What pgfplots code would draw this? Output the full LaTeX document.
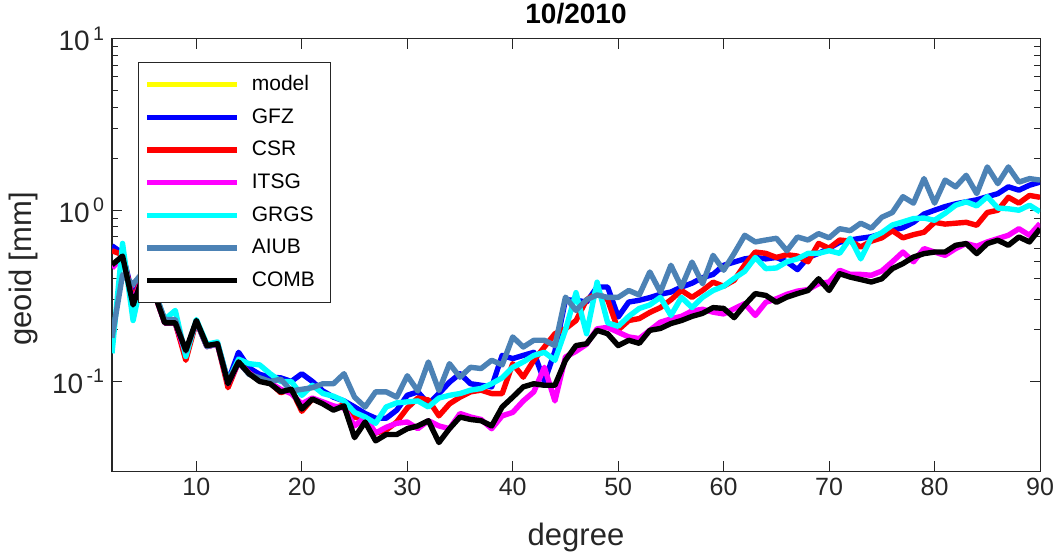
\documentclass[border=0pt]{standalone}
\usepackage{fontspec}
\setmainfont{Liberation Sans}
\usepackage{pgfplots}
\usepackage{pgfplotstable}
\pgfplotsset{compat=1.18}
\definecolor{axgray}{rgb}{0.15,0.15,0.15}
\definecolor{aiubc}{rgb}{0.30,0.51,0.71}
\definecolor{pmag}{rgb}{1,0,1}
\definecolor{pcyan}{rgb}{0,1,1}
\definecolor{pyel}{rgb}{1,1,0}
\definecolor{pblue}{rgb}{0,0,1}
\definecolor{pred}{rgb}{1,0,0}

\pgfplotstableread{
d   gfz   csr   itsg  grgs  aiub  comb
2   0.62  0.58  0.46  0.146 0.18  0.48
3   0.56  0.55  0.53  0.64  0.42  0.54
4   0.31  0.30  0.29  0.227 0.37  0.28
5   0.44  0.43  0.42  0.44  0.44  0.42
6   0.34  0.33  0.33  0.34  0.34  0.33
7   0.22  0.22  0.22  0.23  0.23  0.22
8   0.22  0.22  0.22  0.26  0.23  0.22
9   0.14  0.133 0.145 0.14  0.15  0.152
10  0.225 0.225 0.225 0.23  0.225 0.227
11  0.16  0.16  0.16  0.165 0.16  0.162
12  0.166 0.166 0.165 0.17  0.166 0.166
13  0.10  0.092 0.097 0.10  0.10  0.097
14  0.148 0.13  0.128 0.135 0.13  0.13
15  0.12  0.112 0.112 0.127 0.11  0.111
16  0.11  0.102 0.102 0.125 0.105 0.100
17  0.106 0.098 0.098 0.111 0.10  0.097
18  0.105 0.086 0.09  0.10  0.103 0.087
19  0.10  0.09  0.085 0.10  0.088 0.09
20  0.111 0.067 0.074 0.083 0.09  0.069
21  0.10  0.079 0.08  0.095 0.092 0.079
22  0.088 0.075 0.076 0.085 0.097 0.074
23  0.081 0.07  0.072 0.082 0.097 0.068
24  0.077 0.073 0.07  0.077 0.111 0.072
25  0.071 0.062 0.055 0.066 0.081 0.047
26  0.065 0.06  0.062 0.062 0.071 0.058
27  0.061 0.05  0.05  0.057 0.087 0.045
28  0.061 0.052 0.054 0.071 0.087 0.049
29  0.068 0.058 0.057 0.075 0.081 0.049
30  0.083 0.07  0.058 0.076 0.108 0.053
31  0.087 0.08  0.053 0.077 0.088 0.055
32  0.074 0.078 0.059 0.071 0.13  0.059
33  0.085 0.063 0.055 0.08  0.0885 0.044
34  0.099 0.074 0.053 0.083 0.127 0.053
35  0.111 0.081 0.065 0.085 0.106 0.062
36  0.097 0.087 0.062 0.089 0.121 0.060
37  0.095 0.089 0.06  0.091 0.119 0.059
38  0.093 0.085 0.053 0.097 0.133 0.055
39  0.142 0.085 0.063 0.105 0.125 0.071
40  0.136 0.127 0.066 0.121 0.182 0.081
41  0.142 0.106 0.077 0.13  0.159 0.093
42  0.148 0.133 0.087 0.142 0.174 0.097
43  0.10  0.159 0.121 0.148 0.174 0.095
44  0.15  0.19  0.077 0.133 0.162 0.095
45  0.30  0.203 0.139 0.20  0.311 0.133
46  0.298 0.227 0.150 0.33  0.26  0.162
47  0.291 0.30  0.165 0.19  0.30  0.166
48  0.356 0.33  0.203 0.38  0.32  0.199
49  0.356 0.30  0.207 0.22  0.31  0.19
50  0.238 0.20  0.194 0.21  0.31  0.162
51  0.291 0.227 0.182 0.24  0.34  0.174
52  0.298 0.233 0.178 0.267 0.32  0.167
53  0.309 0.253 0.199 0.28  0.436 0.199
54  0.323 0.27  0.222 0.31  0.333 0.204
55  0.333 0.30  0.232 0.243 0.477 0.218
56  0.356 0.34  0.24  0.31  0.356 0.227
57  0.375 0.31  0.258 0.27  0.498 0.24
58  0.404 0.34  0.264 0.31  0.372 0.25
59  0.422 0.38  0.254 0.34  0.545 0.27
60  0.477 0.36  0.248 0.36  0.446 0.267
61  0.498 0.39  0.266 0.40  0.56  0.236
62  0.52  0.48  0.285 0.44  0.714 0.28
63  0.53  0.57  0.243 0.53  0.653 0.326
64  0.52  0.56  0.29  0.456 0.67  0.318
65  0.53  0.53  0.304 0.46  0.686 0.29
66  0.50  0.55  0.323 0.50  0.58  0.311
67  0.45  0.54  0.337 0.52  0.698 0.326
68  0.53  0.50  0.344 0.56  0.67  0.34
69  0.56  0.64  0.372 0.56  0.73  0.398
70  0.60  0.60  0.381 0.58  0.69  0.34
71  0.65  0.67  0.446 0.56  0.78  0.426
72  0.67  0.66  0.422 0.686 0.76  0.407
73  0.686 0.61  0.422 0.52  0.84  0.394
74  0.70  0.66  0.417 0.69  0.785 0.381
75  0.73  0.69  0.442 0.74  0.91  0.398
76  0.764 0.76  0.50  0.82  0.97  0.456
77  0.79  0.69  0.57  0.855 1.2   0.488
78  0.85  0.72  0.50  0.894 1.1   0.533
79  0.95  0.744 0.597 0.90  1.53  0.558
80  1.0   0.85  0.57  0.874 1.1   0.57
81  1.05  0.83  0.545 0.96  1.5   0.57
82  1.09  0.84  0.597 1.07  1.37  0.624
83  1.12  0.85  0.639 1.12  1.6   0.639
84  1.15  0.817 0.616 1.06  1.25  0.558
85  1.20  0.97  0.653 1.2   1.79  0.639
86  1.25  1.0   0.683 1.03  1.43  0.668
87  1.37  1.19  0.714 1.02  1.79  0.624
88  1.31  1.1   0.78  1.0   1.46  0.698
89  1.40  1.22  0.714 1.07  1.53  0.653
90  1.46  1.19  0.836 0.98  1.5   0.78
}\data

\begin{document}
\begin{tikzpicture}
\begin{axis}[name=ax, scale only axis, width=464pt, height=216pt,
  xmin=2, xmax=90, ymode=log, ymin=0.03, ymax=10,
  xtick={10,20,...,90}, ytick={0.1,1,10},
  yticklabels={10\textsuperscript{\,-1},10\textsuperscript{\,0},10\textsuperscript{\,1}},
  /pgf/number format/assume math mode=true,
  tick align=inside, major tick length=5pt, minor tick length=3pt,
  axis line style={axgray, line width=0.5pt},
  tick style={axgray, line width=0.5pt},
  ticklabel style={font=\fontsize{12.5}{15}\selectfont, text=axgray},
  yticklabel style={font=\fontsize{14}{16}\selectfont, text=axgray},
  xlabel={degree}, ylabel={geoid [mm]},
  label style={font=\fontsize{15.5}{18}\selectfont, text=axgray},
  xlabel style={yshift=-7pt},
  ylabel style={at={(ticklabel cs:0.468)}},
  title={10/2010},
  title style={font=\fontsize{14}{16}\selectfont\bfseries, yshift=-2pt},
  legend style={at={(0.028,0.947)}, anchor=north west, draw=axgray, fill=white,
    font=\fontsize{10.5}{12}\selectfont, row sep=3.5pt, inner xsep=3pt, inner ysep=4.5pt,
    line width=0.5pt},
  legend cell align=left,
  legend image code/.code={\draw[#1] (0pt,0pt) -- (45pt,0pt); \path (49pt,0pt);},
  every axis plot/.append style={line width=2.7pt, line join=round},
]
\addlegendimage{pyel, line width=2.7pt}
\addlegendentry{model\hspace*{3pt}}
\addplot[pblue] table[x=d, y=gfz] {\data}; \addlegendentry{GFZ}
\addplot[pred] table[x=d, y=csr] {\data}; \addlegendentry{CSR}
\addplot[pmag] table[x=d, y=itsg] {\data}; \addlegendentry{ITSG}
\addplot[pcyan] table[x=d, y=grgs] {\data}; \addlegendentry{GRGS}
\addplot[aiubc] table[x=d, y=aiub] {\data}; \addlegendentry{AIUB}
\addplot[black] table[x=d, y=comb] {\data}; \addlegendentry{COMB\hspace*{3pt}}
\end{axis}
\pgfresetboundingbox
\path[use as bounding box] ([xshift=-56pt,yshift=-42.5pt]ax.south west) rectangle ([xshift=8pt,yshift=19.5pt]ax.north east);
\end{tikzpicture}
\end{document}
